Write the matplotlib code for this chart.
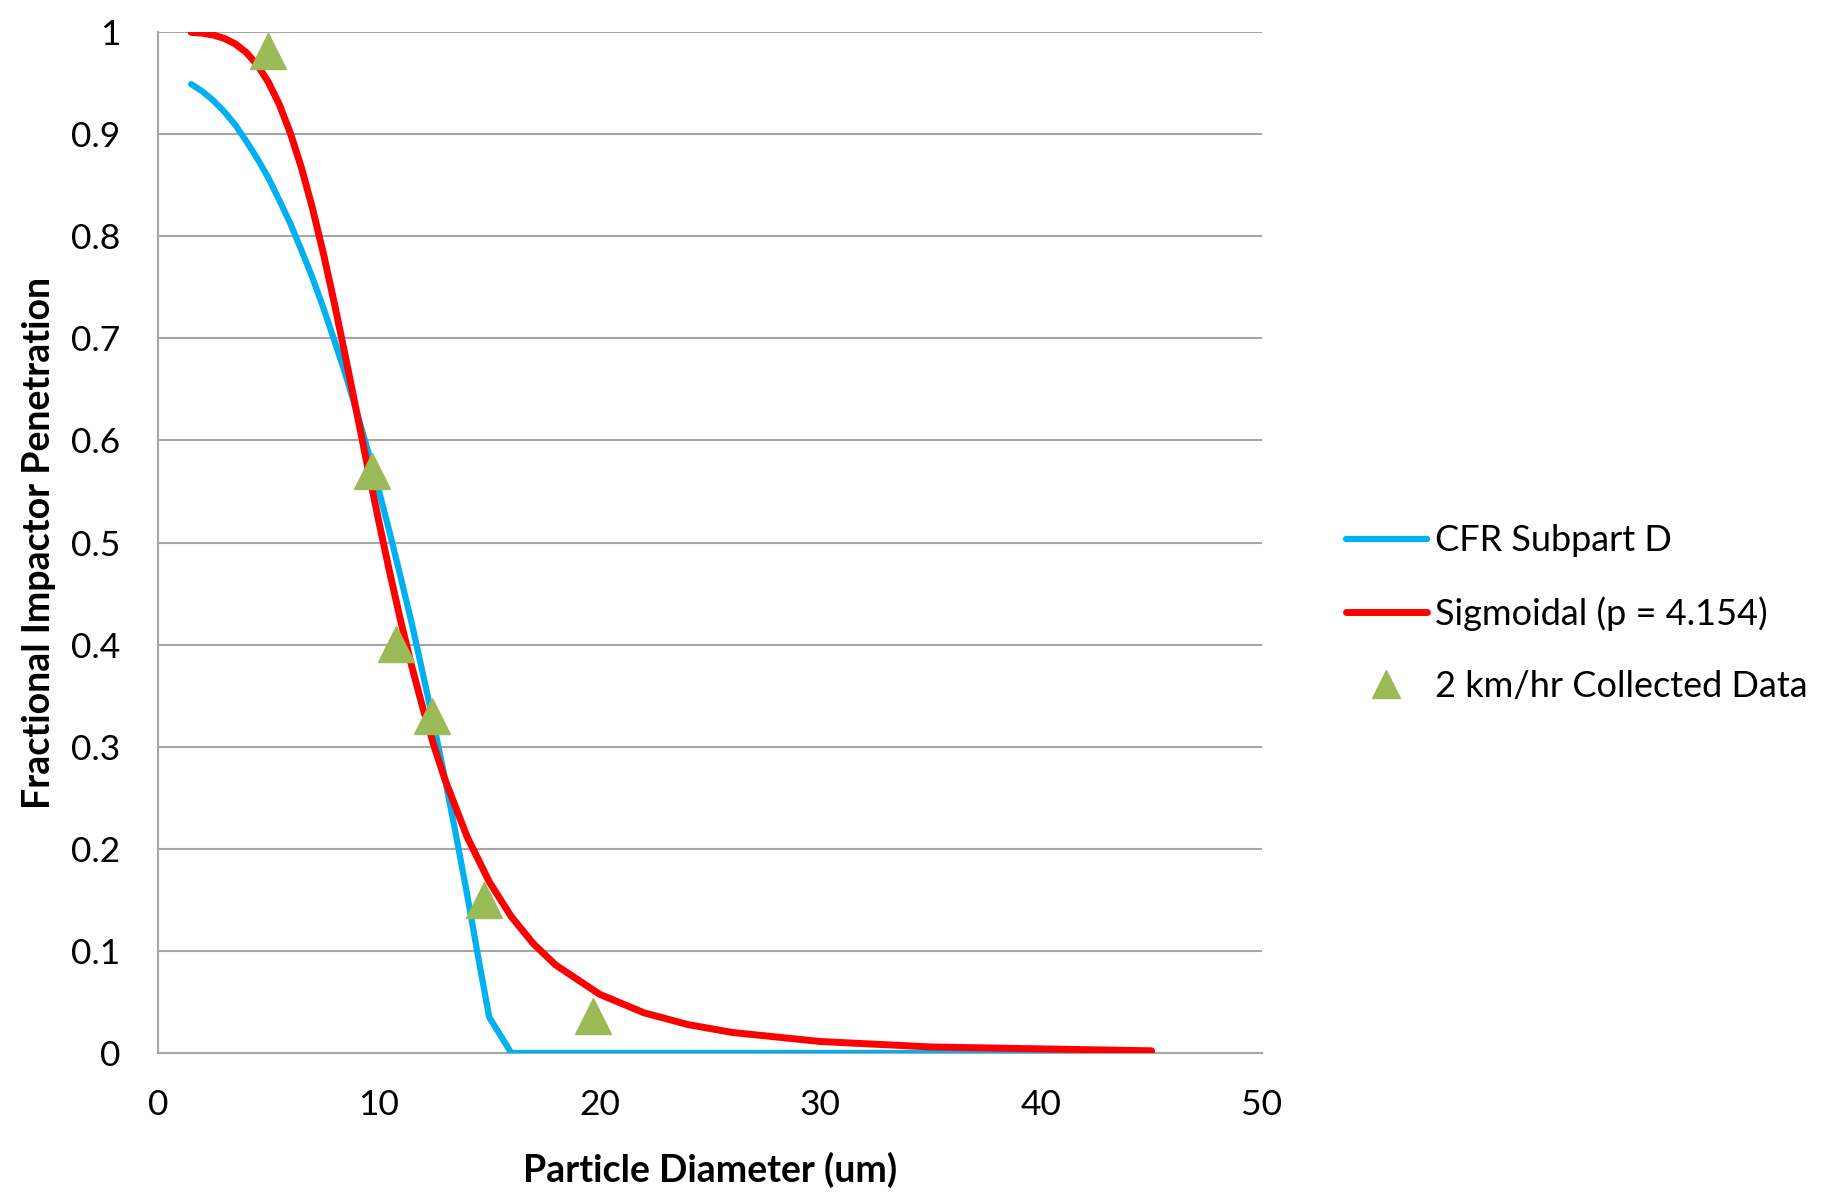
import matplotlib.pyplot as plt
import numpy as np

# CFR Subpart D penetration curve
cfr_d = [1.5, 2, 2.5, 3, 3.5, 4, 4.5, 5, 5.5, 6, 6.5, 7, 7.5, 8, 8.5, 9, 9.5, 10,
         10.5, 11, 11.5, 12, 12.5, 13, 13.5, 14, 14.5, 15, 16, 20, 25, 30, 35, 40, 45]
cfr_p = [0.949, 0.942, 0.933, 0.922, 0.909, 0.893, 0.876, 0.857, 0.835, 0.812, 0.786,
         0.759, 0.729, 0.697, 0.664, 0.628, 0.590, 0.551, 0.509, 0.465, 0.420, 0.371,
         0.321, 0.268, 0.213, 0.155, 0.094, 0.035, 0.0, 0.0, 0.0, 0.0, 0.0, 0.0, 0.0]

# sigmoidal fit (p = 4.154)
sig_d = [1.5, 2, 2.5, 3, 3.5, 4, 4.5, 5, 5.5, 6, 6.5, 7, 7.5, 8, 8.5, 9, 9.5, 10,
         10.5, 11, 11.5, 12, 12.5, 13, 14, 15, 16, 17, 18, 20, 22, 24, 26, 30, 35, 45]
sig_p = [0.9997, 0.9989, 0.9971, 0.9938, 0.9884, 0.9799, 0.9677, 0.9508, 0.9287,
         0.9006, 0.8667, 0.8269, 0.7820, 0.7329, 0.6808, 0.6272, 0.5733, 0.5206,
         0.4699, 0.4222, 0.3780, 0.3374, 0.3006, 0.2675, 0.2116, 0.1677, 0.1335,
         0.1070, 0.0863, 0.0575, 0.0394, 0.0278, 0.0201, 0.0112, 0.0059, 0.0021]

# 2 km/hr collected data
meas_d = [5.0, 9.7, 10.8, 12.4, 14.75, 19.7]
meas_p = [0.981, 0.570, 0.401, 0.330, 0.150, 0.036]

font = ['Lato', 'DejaVu Sans']
plt.rcParams['font.family'] = font

fig = plt.figure(figsize=(18.25, 11.96), dpi=100)
ax = fig.add_axes([0.0866, 0.1196, 0.6049, 0.8536])

grid_c = '#A6A6A6'
ax.plot(cfr_d, cfr_p, color='#00B0F0', linewidth=4.5, label='CFR Subpart D',
        solid_capstyle='round', zorder=3)
ax.plot(sig_d, sig_p, color='#FF0000', linewidth=5, label='Sigmoidal (p = 4.154)',
        solid_capstyle='round', zorder=4)
ax.plot(meas_d, meas_p, linestyle='none', marker='^', markersize=26,
        color='#9BBB59', label='2 km/hr Collected Data', zorder=5)

ax.set_xlim(0, 50)
ax.set_ylim(0, 1)
ax.set_xticks(np.arange(0, 51, 10))
ax.set_yticks(np.arange(0, 1.01, 0.1))
ax.set_yticklabels(['0', '0.1', '0.2', '0.3', '0.4', '0.5', '0.6', '0.7', '0.8', '0.9', '1'])
ax.grid(axis='y', color=grid_c, linewidth=1.5)
ax.set_axisbelow(True)
for s in ['top', 'right']:
    ax.spines[s].set_visible(False)
for s in ['left', 'bottom']:
    ax.spines[s].set_color(grid_c)
    ax.spines[s].set_linewidth(1.5)
ax.tick_params(length=0, labelsize=25.5)
ax.tick_params(axis='y', pad=27)
ax.tick_params(axis='x', pad=26)

ax.set_xlabel('Particle Diameter (um)', fontsize=27, fontweight='bold', labelpad=22)
ax.set_ylabel('Fractional Impactor Penetration', fontsize=27, fontweight='bold', labelpad=11)

ax.legend(loc='center left', bbox_to_anchor=(0.7195, 0.487), bbox_transform=fig.transFigure,
          frameon=False, fontsize=26, handlelength=2.25, handletextpad=0.22,
          labelspacing=1.08, markerscale=0.8)

fig.savefig('out.png', dpi=100)
